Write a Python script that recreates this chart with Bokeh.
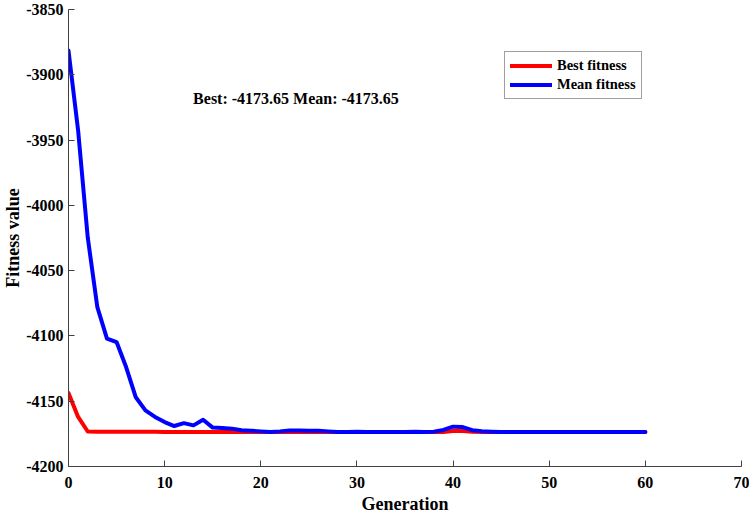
from bokeh.plotting import figure
from bokeh.models import (Range1d, Legend, LegendItem, Label, FixedTicker,
                          CustomJSTickFormatter, LinearAxis)
from bokeh.embed import file_html
from bokeh.resources import INLINE

# ---- data ----
generation = list(range(0, 61))
best_fitness = [
    -4143.8, -4162.0, -4173.2, -4173.3, -4173.3, -4173.3, -4173.3, -4173.3, -4173.4, -4173.4,
    -4173.5, -4173.6, -4173.6, -4173.6, -4173.6, -4173.6, -4173.6, -4173.6, -4173.6, -4173.6,
    -4173.65, -4173.65, -4173.65, -4173.65, -4173.65, -4173.65, -4173.65, -4173.65, -4173.65, -4173.65,
    -4173.65, -4173.65, -4173.65, -4173.65, -4173.65, -4173.65, -4173.65, -4173.65, -4173.65, -4173.5,
    -4172.8, -4172.8, -4173.4, -4173.6, -4173.65, -4173.65, -4173.65, -4173.65, -4173.65, -4173.65,
    -4173.65, -4173.65, -4173.65, -4173.65, -4173.65, -4173.65, -4173.65, -4173.65, -4173.65, -4173.65,
    -4173.65,
]
mean_fitness = [
    -3881.5, -3942.6, -4024.5, -4078.0, -4102.0, -4104.7, -4124.0, -4147.0, -4157.0, -4162.0,
    -4166.0, -4169.0, -4166.8, -4168.5, -4164.2, -4170.2, -4170.6, -4171.0, -4172.3, -4172.6,
    -4173.1, -4173.5, -4173.1, -4172.4, -4172.4, -4172.6, -4172.6, -4173.1, -4173.5, -4173.5,
    -4173.4, -4173.5, -4173.6, -4173.5, -4173.6, -4173.5, -4173.4, -4173.5, -4173.3, -4172.0,
    -4169.5, -4169.8, -4172.2, -4173.0, -4173.3, -4173.5, -4173.6, -4173.6, -4173.65, -4173.65,
    -4173.65, -4173.65, -4173.65, -4173.65, -4173.65, -4173.65, -4173.65, -4173.65, -4173.65, -4173.65,
    -4173.65,
]
x_ticks = [0, 10, 20, 30, 40, 50, 60, 70]
y_ticks = [-4200, -4150, -4100, -4050, -4000, -3950, -3900, -3850]
title_text = "Best: -4173.65 Mean: -4173.65"
title_pos = (23.66, -3918.0)
series_labels = ["Best fitness", "Mean fitness"]
x_label = "Generation"
y_label = "Fitness value"

FONT = "Liberation Serif"

p = figure(width=749, height=516, output_backend="svg", toolbar_location=None,
           x_range=Range1d(x_ticks[0], x_ticks[-1]), y_range=Range1d(y_ticks[0], y_ticks[-1]),
           x_axis_location=None, y_axis_location=None,
           min_border_left=68, min_border_right=8, min_border_top=9, min_border_bottom=50)
p.outline_line_color = None
p.xgrid.grid_line_color = None
p.ygrid.grid_line_color = None
p.background_fill_color = "white"
p.border_fill_color = "white"

def make_axis(ticks, label, label_standoff, axis_standoff):
    return LinearAxis(
        ticker=FixedTicker(ticks=ticks),
        formatter=CustomJSTickFormatter(code="return String(Math.round(tick));"),
        axis_label=label,
        axis_line_color="#404040",
        major_tick_line_color="#404040",
        major_tick_in=6, major_tick_out=0,
        minor_tick_in=0, minor_tick_out=0,
        major_label_text_font=FONT,
        major_label_text_font_style="bold",
        major_label_text_font_size="16px",
        major_label_text_color="black",
        major_label_standoff=label_standoff,
        axis_label_text_font=FONT,
        axis_label_text_font_style="bold",
        axis_label_text_font_size="18px",
        axis_label_text_color="black",
        axis_label_standoff=axis_standoff,
    )

p.add_layout(make_axis(x_ticks, x_label, 10, 3), "below")
p.add_layout(make_axis(y_ticks, y_label, 5, 0), "left")

r_best = p.line(generation, best_fitness, line_color="#ff0000", line_width=4,
                line_cap="round", line_join="round")
r_mean = p.line(generation, mean_fitness, line_color="#0000ff", line_width=4,
                line_cap="round", line_join="round")

p.add_layout(Label(x=title_pos[0], y=title_pos[1], text=title_text,
                   text_align="center", text_baseline="middle",
                   text_font=FONT, text_font_style="bold", text_font_size="16px",
                   text_color="black"))

legend = Legend(items=[LegendItem(label=series_labels[0], renderers=[r_best]),
                       LegendItem(label=series_labels[1], renderers=[r_mean])],
                location=(436, 367), orientation="vertical")
legend.label_text_font = FONT
legend.label_text_font_style = "bold"
legend.label_text_font_size = "14.5px"
legend.label_text_color = "black"
legend.glyph_width = 42
legend.glyph_height = 17
legend.label_height = 17
legend.label_standoff = 5
legend.spacing = 2
legend.padding = 5
legend.margin = 0
legend.border_line_color = "#404040"
legend.border_line_width = 1
legend.background_fill_color = "white"
legend.background_fill_alpha = 1.0
p.add_layout(legend)

open("out.html", "w").write(file_html(p, INLINE))
